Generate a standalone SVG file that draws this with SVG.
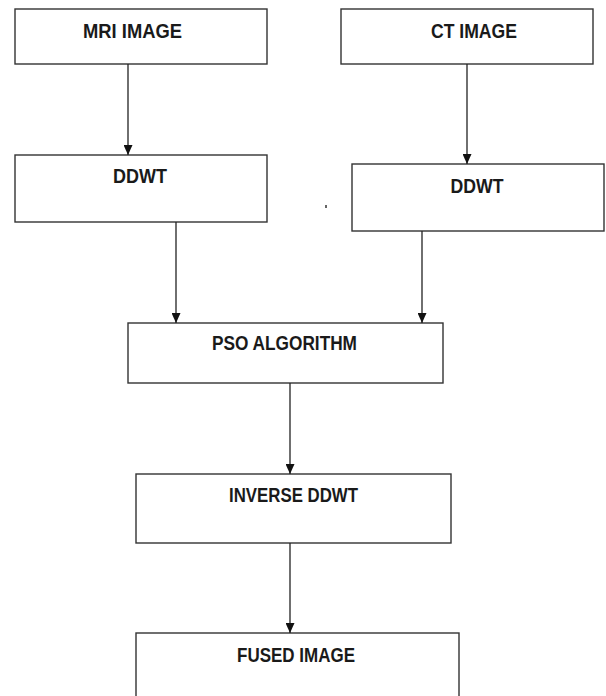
<svg xmlns="http://www.w3.org/2000/svg" width="606" height="696" viewBox="0 0 606 696">
<defs>
<marker id="arr" viewBox="0 0 10 10" refX="10" refY="5" markerWidth="10" markerHeight="9" markerUnits="userSpaceOnUse" orient="auto" preserveAspectRatio="none">
<path d="M0,0 L10,5 L0,10 Z" fill="#111"/>
</marker>
<style>
.box{fill:#fff;stroke:#333;stroke-width:1.4}
.lbl{font-family:"Liberation Sans","Open Sans",Arial,sans-serif;font-weight:bold;font-size:19.5px;fill:#1a1a1a;text-anchor:middle}
.con{stroke:#222;stroke-width:1.3;fill:none;marker-end:url(#arr)}
</style>
</defs>
<rect width="606" height="696" fill="#fff"/>
<g id="mri">
<rect class="box" x="15" y="9" width="252" height="55"/>
<text class="lbl" x="132.5" y="38" textLength="99" lengthAdjust="spacingAndGlyphs">MRI IMAGE</text>
</g>
<g id="ct">
<rect class="box" x="341" y="9" width="252" height="55"/>
<text class="lbl" x="474" y="38" textLength="86" lengthAdjust="spacingAndGlyphs">CT IMAGE</text>
</g>
<g id="ddwt1">
<rect class="box" x="15" y="155" width="252" height="67"/>
<text class="lbl" x="140" y="183" textLength="54" lengthAdjust="spacingAndGlyphs">DDWT</text>
</g>
<g id="ddwt2">
<rect class="box" x="352" y="164" width="252" height="67"/>
<text class="lbl" x="477" y="193" textLength="53" lengthAdjust="spacingAndGlyphs">DDWT</text>
</g>
<g id="pso">
<rect class="box" x="128" y="323" width="315" height="60"/>
<text class="lbl" x="284.5" y="350" textLength="145" lengthAdjust="spacingAndGlyphs">PSO ALGORITHM</text>
</g>
<g id="inverse">
<rect class="box" x="136" y="474" width="315" height="69"/>
<text class="lbl" x="293.5" y="502" textLength="129" lengthAdjust="spacingAndGlyphs">INVERSE DDWT</text>
</g>
<g id="fused">
<rect class="box" x="136" y="633" width="323" height="70"/>
<text class="lbl" x="296" y="662" textLength="118" lengthAdjust="spacingAndGlyphs">FUSED IMAGE</text>
</g>
<rect x="325" y="205" width="2" height="3" fill="#666"/>
<g id="connectors">
<line class="con" x1="128" y1="64" x2="128" y2="155"/>
<line class="con" x1="467" y1="64" x2="467" y2="164"/>
<line class="con" x1="176" y1="222" x2="176" y2="323"/>
<line class="con" x1="422" y1="231" x2="422" y2="323"/>
<line class="con" x1="290" y1="383" x2="290" y2="474"/>
<line class="con" x1="290" y1="543" x2="290" y2="633"/>
</g>
</svg>
